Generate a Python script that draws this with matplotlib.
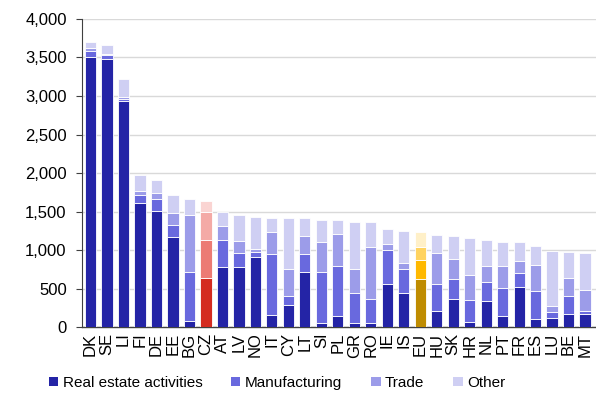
import matplotlib
matplotlib.use("Agg")
import matplotlib.pyplot as plt
import numpy as np

plt.rcParams['font.family'] = ['Liberation Sans', 'DejaVu Sans']

countries = ["DK", "SE", "LI", "FI", "DE", "EE", "BG", "CZ", "AT", "LV", "NO",
             "IT", "CY", "LT", "SI", "PL", "GR", "RO", "IE", "IS", "EU", "HU",
             "SK", "HR", "NL", "PT", "FR", "ES", "LU", "BE", "MT"]

real_estate = [3510, 3485, 2940, 1615, 1510, 1165, 80, 640, 775, 785, 913,
               155, 290, 718, 48, 147, 56, 56, 559, 446, 623, 212,
               360, 69, 342, 147, 524, 108, 121, 173, 173]
manufacturing = [70, 45, 22, 104, 155, 155, 640, 495, 360, 170, 65,
                 795, 117, 234, 670, 650, 390, 304, 441, 307, 247, 350,
                 263, 282, 243, 364, 182, 360, 78, 234, 39]
trade = [45, 20, 30, 44, 70, 165, 730, 365, 180, 165, 35,
         280, 343, 234, 382, 408, 307, 679, 78, 82, 173, 399,
         260, 324, 204, 286, 156, 337, 74, 234, 273]
other = [70, 117, 227, 212, 180, 230, 210, 130, 180, 330, 412,
         190, 662, 226, 290, 186, 615, 321, 199, 416, 195, 238,
         303, 477, 341, 303, 238, 247, 718, 337, 480]

series_names = ["Real estate activities", "Manufacturing", "Trade", "Other"]
series = [real_estate, manufacturing, trade, other]

blues = ["#2424A6", "#6969DE", "#9C9CE9", "#CFCFF3"]
reds = ["#D42B20", "#EC7B74", "#F4AAA6", "#FAD4D2"]
golds = ["#BF8C00", "#FFB900", "#FFD35F", "#FFF0C8"]

fig = plt.figure(figsize=(5.96, 3.94), dpi=100)
ax = fig.add_axes([0.1376, 0.170, 0.862, 0.7818])

x = np.arange(len(countries))
bottom = np.zeros(len(countries))
for k, (name, vals) in enumerate(zip(series_names, series)):
    vals = np.array(vals, dtype=float)
    colors = []
    for c in countries:
        if c == "CZ":
            colors.append(reds[k])
        elif c == "EU":
            colors.append(golds[k])
        else:
            colors.append(blues[k])
    ax.bar(x, vals, width=0.68, bottom=bottom, color=colors,
           edgecolor="white", linewidth=0.6, label=name, zorder=3)
    bottom += vals

ax.set_ylim(0, 4000)
ax.set_xlim(-0.52, len(countries) - 0.35)
ax.set_yticks(np.arange(0, 4001, 500))
ax.set_yticklabels([f"{v:,}" for v in range(0, 4001, 500)])
ax.yaxis.grid(True, color="#D9D9D9", linewidth=1.0, zorder=0)
ax.set_axisbelow(True)

ax.set_xticks(x)
ax.set_xticklabels(countries, rotation=90)
ax.tick_params(axis="x", length=0, pad=4, labelsize=12)
ax.tick_params(axis="y", direction="out", length=4, width=0.8,
               color="#404040", pad=7, labelsize=12)

for s in ["top", "right"]:
    ax.spines[s].set_visible(False)
ax.spines["left"].set_color("#404040")
ax.spines["left"].set_linewidth(0.8)
ax.spines["bottom"].set_color("#404040")
ax.spines["bottom"].set_linewidth(1.0)

handles, labels = ax.get_legend_handles_labels()
leg = fig.legend(handles, labels, loc="center", ncol=4,
                 bbox_to_anchor=(0.465, 0.028), frameon=False,
                 handlelength=0.6, handleheight=0.6, handletextpad=0.3,
                 columnspacing=1.9, fontsize=11)
for h in leg.legend_handles:
    h.set_edgecolor("none")

fig.savefig("out.png", dpi=100)
